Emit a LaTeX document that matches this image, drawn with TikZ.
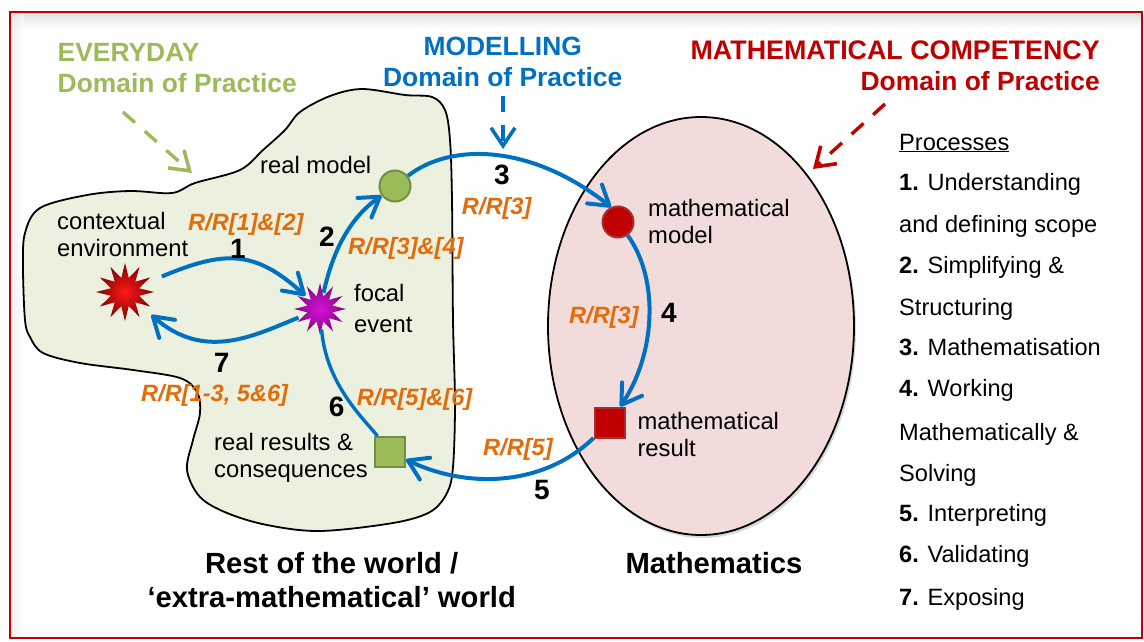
\documentclass[tikz,border=0pt]{standalone}
\usepackage{fontspec}
\setmainfont{Liberation Sans}
\usetikzlibrary{arrows.meta,shapes.geometric,shadows}
\definecolor{everydaygreen}{HTML}{9BBB59}
\definecolor{everydayfill}{HTML}{EBF1DE}
\definecolor{modelblue}{HTML}{0070C0}
\definecolor{compred}{HTML}{C00000}
\definecolor{compfill}{HTML}{F2DCDB}
\definecolor{rrorange}{HTML}{E36C0A}
\definecolor{focalcore}{HTML}{D810D8}
\definecolor{focaledge}{HTML}{800A80}

\begin{document}
\begin{tikzpicture}[
    x=1pt,y=-1pt,
    stagetext/.style={inner sep=0pt,font=\fontsize{23.8}{27}\selectfont,align=left,anchor=base west},
    listitem/.style={inner sep=0pt,font=\fontsize{23.6}{27}\selectfont,anchor=base west},
    rrlabel/.style={inner sep=0pt,text=rrorange,font=\bfseries\itshape\fontsize{23.6}{27}\selectfont,anchor=base west},
    stepnum/.style={inner sep=0pt,font=\bfseries\fontsize{28}{32}\selectfont,anchor=base},
    domainhead/.style={inner sep=0pt,font=\bfseries\fontsize{26.4}{31}\selectfont},
    worldname/.style={inner sep=0pt,font=\bfseries\fontsize{29.2}{34}\selectfont,align=center,anchor=base},
    flow/.style={modelblue,line width=4pt,-{Straight Barb[length=19pt,width=24pt,line width=4pt,round]}},
    pointer/.style={line width=3.4pt,dash pattern=on 16pt off 13pt,-{Straight Barb[length=18pt,width=24pt,line width=3.6pt]}},
    burst/.style={star,star points=12,star point ratio=2,inner sep=0pt}
]
\useasboundingbox (0,0) rectangle (1144,642);

% frame
\shade[top color=black!12,bottom color=white] (10,13) rectangle (1142,28);
\shade[left color=black!12,right color=white,fill opacity=.6] (10,13) rectangle (24,637);
\draw[compred,line width=2pt] (9.5,12.5) rectangle (1142,638);

% the two worlds
\node[ellipse,draw=black,line width=1.8pt,fill=compfill,minimum width=306pt,minimum height=418pt,inner sep=0pt,
    drop shadow={shadow xshift=2pt,shadow yshift=-3pt,opacity=.3}] (mathworld) at (701,326) {};
\draw[fill=everydayfill,line width=1.8pt] plot[smooth cycle,tension=0.55] coordinates {
    (172,193) (195,183) (240,170) (263,150) (285,130) (300,112) (330,96) (362,89) (405,95) (432,97)
    (445,110) (450,140) (452,200) (453,320) (455,403) (453,467) (447,493) (430,512) (393,523) (320,531)
    (267,525) (227,513) (200,497) (187,470) (193,440) (200,413) (197,392) (180,378) (133,370) (80,363)
    (43,353) (30,337) (25,320) (23,267) (25,233) (40,208) (87,195) (130,191)};

% stages
\node[burst,minimum size=58pt,inner color=red!90!white,outer color=red!50!black] (contextstar) at (125,292) {};
\node[burst,minimum size=52pt,inner color=focalcore,outer color=focaledge] (focalstar) at (320,309) {};
\node[circle,draw=everydaygreen!75!black,line width=2pt,fill=everydaygreen,minimum size=31pt,inner sep=0pt] (realmodel) at (395,186) {};
\node[circle,draw=compred!65!gray,line width=2pt,fill=compred,minimum size=31pt,inner sep=0pt] (mathmodel) at (618,222) {};
\node[rectangle,draw=compred!65!gray,line width=2pt,fill=compred,minimum size=30pt,inner sep=0pt] (mathresult) at (609.5,422.5) {};
\node[rectangle,draw=everydaygreen!75!black,line width=2pt,fill=everydaygreen,minimum size=30pt,inner sep=0pt] (realresult) at (390,452) {};

% cycle
\draw[flow,shorten <=20pt,shorten >=5pt] (contextstar) .. controls (225,250) and (255,250) .. (focalstar);
\draw[flow,shorten <=2pt] (focalstar) .. controls (333,250) and (350,218) .. (realmodel);
\draw[flow] (realmodel) .. controls (450,143) and (530,143) .. (mathmodel.115);
\draw[flow] (mathmodel) .. controls (660,280) and (655,355) .. (mathresult);
\draw[flow] (mathresult) .. controls (545,485) and (470,490) .. (realresult);
\draw[modelblue,line width=3.4pt] (realresult) .. controls (365,420) and (326,385) .. (focalstar);
\draw[flow,shorten <=6pt,shorten >=18pt] (focalstar) .. controls (255,335) and (205,362) .. (contextstar);

% domain pointers
\coordinate (everydaytail) at (123,112);
\coordinate (everydayhead) at (192,173);
\coordinate (modeltail) at (503,96);
\coordinate (modelhead) at (503,149);
\coordinate (comptail) at (885,104);
\coordinate (comphead) at (813,169);
\draw[pointer,everydaygreen] (everydaytail) -- (everydayhead);
\draw[pointer,modelblue] (modeltail) -- (modelhead);
\draw[pointer,compred] (comptail) -- (comphead);

% headings
\node[domainhead,text=everydaygreen,align=left,anchor=base west] (everyday) at (57.5,92.7) {EVERYDAY\\Domain of Practice};
\node[domainhead,text=modelblue,align=center,anchor=base] (modelling) at (502.7,86.7) {MODELLING\\Domain of Practice};
\node[domainhead,text=compred,align=right,anchor=base east] (competency) at (1100,91) {{\fontsize{26.85}{31}\selectfont MATHEMATICAL COMPETENCY}\\Domain of Practice};

% stage texts
\node[stagetext] (contexttext) at (57,256.7) {contextual\\environment};
\node[stagetext] (realmodeltext) at (260,173) {real model};
\node[stagetext,font=\fontsize{23.8}{31}\selectfont] (focaltext) at (354,332.7) {focal\\event};
\node[stagetext] (realresulttext) at (214,477.7) {real results \&\\consequences};
\node[stagetext] (mathmodeltext) at (648,243.3) {mathematical\\model};
\node[stagetext] (mathresulttext) at (637.3,456.7) {mathematical\\result};

% step numbers
\node[stepnum] (num1) at (238,258) {1};
\node[stepnum] (num2) at (327,246) {2};
\node[stepnum] (num3) at (502,184.3) {3};
\node[stepnum] (num4) at (669,322) {4};
\node[stepnum] (num5) at (542,499) {5};
\node[stepnum] (num6) at (336.7,416.7) {6};
\node[stepnum] (num7) at (221.7,372.3) {7};

% R/R labels
\node[rrlabel] (rr12) at (188,230) {R/R[1]\&[2]};
\node[rrlabel] (rr34) at (348,254) {R/R[3]\&[4]};
\node[rrlabel] (rr3a) at (461.7,214) {R/R[3]};
\node[rrlabel] (rr3b) at (569,323) {R/R[3]};
\node[rrlabel] (rr5) at (483,455) {R/R[5]};
\node[rrlabel] (rr56) at (356.7,405) {R/R[5]\&[6]};
\node[rrlabel] (rrall) at (141,401.7) {R/R[1-3, 5\&6]};

% world names
\node[worldname] (restworld) at (331.7,607) {Rest of the world /\\‘extra-mathematical’ world};
\node[worldname] (mathname) at (714,573.3) {Mathematics};

% processes
\node[listitem] (procs) at (899,150) {\underline{Processes}};
\node[listitem] (proc1) at (899,190) {\textbf{1.} Understanding};
\node[listitem] (proc1b) at (899,232.7) {and defining scope};
\node[listitem] (proc2) at (899,273) {\textbf{2.} Simplifying \&};
\node[listitem] (proc2b) at (899,315) {Structuring};
\node[listitem] (proc3) at (899,355.7) {\textbf{3.} Mathematisation};
\node[listitem] (proc4) at (899,396.7) {\textbf{4.} Working};
\node[listitem] (proc4b) at (899,440) {Mathematically \&};
\node[listitem] (proc4c) at (899,481) {Solving};
\node[listitem] (proc5) at (899,521.7) {\textbf{5.} Interpreting};
\node[listitem] (proc6) at (899,562.7) {\textbf{6.} Validating};
\node[listitem] (proc7) at (899,605) {\textbf{7.} Exposing};

\end{tikzpicture}
\end{document}
